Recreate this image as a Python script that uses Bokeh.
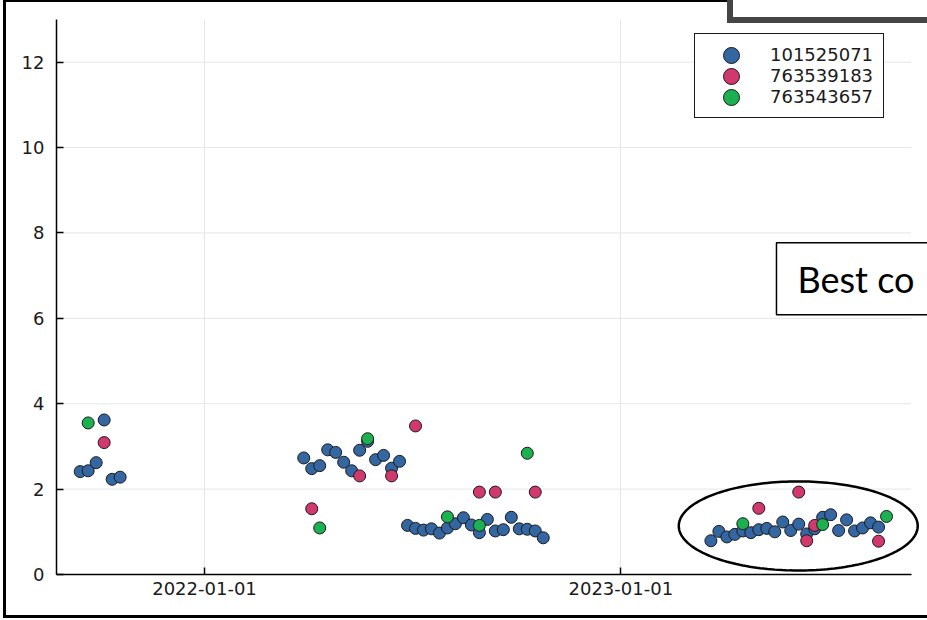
import pandas as pd
import numpy as np
from bokeh.plotting import figure
from bokeh.models import (ColumnDataSource, Range1d, FixedTicker, DatetimeTickFormatter,
                          Legend, LegendItem, Label, PolyAnnotation, InlineStyleSheet)
from bokeh.embed import file_html
from bokeh.resources import INLINE

# ---------------- data ----------------
SERIES_NAMES = ["101525071", "763539183", "763543657"]
SERIES_COLORS = ["#3467a2", "#d0386e", "#1bb150"]

dates_101525071 = [
    "2021-09-14", "2021-09-21", "2021-09-28", "2021-10-05", "2021-10-12", "2021-10-19",
    "2022-03-29", "2022-04-05", "2022-04-12", "2022-04-19", "2022-04-26", "2022-05-03",
    "2022-05-10", "2022-05-17", "2022-05-24", "2022-05-31", "2022-06-07", "2022-06-14",
    "2022-06-21", "2022-06-28", "2022-07-05", "2022-07-12", "2022-07-19", "2022-07-26",
    "2022-08-02", "2022-08-09", "2022-08-16", "2022-08-23", "2022-08-30", "2022-09-06",
    "2022-09-13", "2022-09-20", "2022-09-27", "2022-10-04", "2022-10-11", "2022-10-18",
    "2022-10-25",
    "2023-03-21", "2023-03-28", "2023-04-04", "2023-04-11", "2023-04-18", "2023-04-25",
    "2023-05-02", "2023-05-09", "2023-05-16", "2023-05-23", "2023-05-30", "2023-06-06",
    "2023-06-13", "2023-06-20", "2023-06-27", "2023-07-04", "2023-07-11", "2023-07-18",
    "2023-07-25", "2023-08-01", "2023-08-08", "2023-08-15",
]
values_101525071 = [
    2.41, 2.43, 2.62, 3.62, 2.23, 2.28,
    2.73, 2.48, 2.55, 2.92, 2.86, 2.63,
    2.43, 2.91, 3.12, 2.69, 2.79, 2.49,
    2.65, 1.15, 1.08, 1.04, 1.07, 0.97,
    1.09, 1.19, 1.33, 1.16, 0.98, 1.29,
    1.02, 1.05, 1.34, 1.07, 1.06, 1.02,
    0.86,
    0.79, 1.01, 0.88, 0.94, 1.02, 0.98,
    1.05, 1.08, 1.00, 1.23, 1.03, 1.18,
    0.95, 1.07, 1.34, 1.40, 1.03, 1.28,
    1.02, 1.09, 1.21, 1.11,
]

dates_763539183 = [
    "2021-10-05", "2022-04-05", "2022-05-17", "2022-06-14", "2022-07-05", "2022-08-30",
    "2022-09-13", "2022-10-18", "2023-05-02", "2023-06-06", "2023-06-13", "2023-06-20",
    "2023-08-15",
]
values_763539183 = [
    3.09, 1.54, 2.31, 2.31, 3.48, 1.93,
    1.93, 1.93, 1.55, 1.93, 0.79, 1.15,
    0.78,
]

dates_763543657 = [
    "2021-09-21", "2022-04-12", "2022-05-24", "2022-08-02", "2022-08-30", "2022-10-11",
    "2023-04-18", "2023-06-27", "2023-08-22",
]
values_763543657 = [3.55, 1.09, 3.18, 1.35, 1.15, 2.84, 1.19, 1.17, 1.36]

X_TICK_DATES = ["2022-01-01", "2023-01-01"]
Y_TICKS = [0, 2, 4, 6, 8, 10, 12]
X_START = "2021-08-24 05:00"      # left end of the axes
X_AXIS_END = "2023-09-12 16:00"   # right end of the axis line / grid
X_VIEW_END = "2023-09-26 22:00"   # right edge of the drawing area (slide crop)
Y_START, Y_END = 0, 13

ANNOTATION_TEXT = "Best co"

# ---------------- figure ----------------
def ms(s):
    return pd.Timestamp(s).value / 1e6

css = InlineStyleSheet(css="""
:host { position: relative; overflow: hidden; }
:host::before {
  content: ""; position: absolute; box-sizing: border-box;
  left: 3px; top: -1px; width: 1200px; height: 619px;
  border: 3px solid #000; pointer-events: none; z-index: 10;
}
:host::after {
  content: ""; position: absolute; box-sizing: border-box;
  left: 727px; top: -20px; width: 400px; height: 43px;
  border: 6px solid #454545; background: #fff; pointer-events: none; z-index: 11;
}
""")

p = figure(width=927, height=620, x_axis_type="datetime",
           x_range=Range1d(pd.Timestamp(X_START), pd.Timestamp(X_VIEW_END)),
           y_range=Range1d(Y_START, Y_END),
           output_backend="svg", toolbar_location=None, title=None,
           min_border_left=56, min_border_right=0, min_border_top=19, min_border_bottom=46,
           stylesheets=[css])
p.outline_line_color = None
p.background_fill_color = "white"
p.border_fill_color = "white"

p.xaxis.ticker = FixedTicker(ticks=[ms(d) for d in X_TICK_DATES])
p.xaxis.formatter = DatetimeTickFormatter(days="%Y-%m-%d", months="%Y-%m-%d", years="%Y-%m-%d")
p.xaxis.bounds = (pd.Timestamp(X_START), pd.Timestamp(X_AXIS_END))
p.yaxis.ticker = FixedTicker(ticks=Y_TICKS)
p.xgrid.ticker = FixedTicker(ticks=[ms(d) for d in X_TICK_DATES])
p.xgrid.grid_line_color = "#e6e6e6"
p.ygrid.visible = False

# horizontal grid lines, stopping where the x axis stops
hgrid = p.segment(x0=[pd.Timestamp(X_START)] * len(Y_TICKS),
                  x1=[pd.Timestamp(X_AXIS_END)] * len(Y_TICKS),
                  y0=Y_TICKS, y1=Y_TICKS, line_color="#e6e6e6", line_width=1)
hgrid.level = "underlay"

for ax in (p.xaxis, p.yaxis):
    ax.axis_line_color = "black"
    ax.axis_line_width = 1.5
    ax.major_tick_line_color = "black"
    ax.major_tick_line_width = 1.5
    ax.major_tick_in = 7
    ax.major_tick_out = 0
    ax.minor_tick_line_color = None
    ax.major_label_text_font = "DejaVu Sans"
    ax.major_label_text_font_size = "18px"
    ax.major_label_text_color = "#1a1a1a"
p.yaxis.major_label_standoff = 12
p.xaxis.major_label_standoff = 7

series = [
    (dates_101525071, values_101525071),
    (dates_763539183, values_763539183),
    (dates_763543657, values_763543657),
]
renderers = []
for (d, v), color in zip(series, SERIES_COLORS):
    src = ColumnDataSource(dict(date=pd.to_datetime(d), val=v))
    r = p.ellipse(x="date", y="val", width=12, height=12,
                  width_units="screen", height_units="screen", source=src,
                  fill_color=color, line_color="#1a1a1a", line_width=1)
    renderers.append(r)

legend = Legend(
    items=[LegendItem(label=n, renderers=[r]) for n, r in zip(SERIES_NAMES, renderers)],
    location=(638, 456), margin=0, padding=10, spacing=0,
    glyph_height=20, glyph_width=52, label_standoff=13, label_width=103, label_height=20,
    border_line_color="#1a1a1a", border_line_width=1, border_line_alpha=1,
    background_fill_color="white", background_fill_alpha=1,
    label_text_font="DejaVu Sans", label_text_font_size="18px", label_text_color="#1a1a1a",
)
p.add_layout(legend)

# ellipse highlighting the last cluster
cx = ms("2023-06-05 14:00")
cy = 1.137
hw = 104.75 * 86400000.0
hh = 1.043
t = np.linspace(0, 2 * np.pi, 200)
ell = PolyAnnotation(xs=list(cx + hw * np.cos(t)), ys=list(cy + hh * np.sin(t)),
                     xs_units="data", ys_units="data",
                     fill_alpha=0, line_color="black", line_width=2.5, line_alpha=1)
p.add_layout(ell)

lab = Label(x=ms("2023-05-17 12:00"), y=6.93, x_units="data", y_units="data",
            text=ANNOTATION_TEXT, text_font="Lato", text_font_size="36px",
            text_color="black", text_align="left", text_baseline="middle",
            background_fill_color="white", background_fill_alpha=1,
            border_line_color="black", border_line_width=1.5,
            padding=dict(left=21, right=40, top=14, bottom=14))
p.add_layout(lab)

open("out.html", "w").write(file_html(p, INLINE))
